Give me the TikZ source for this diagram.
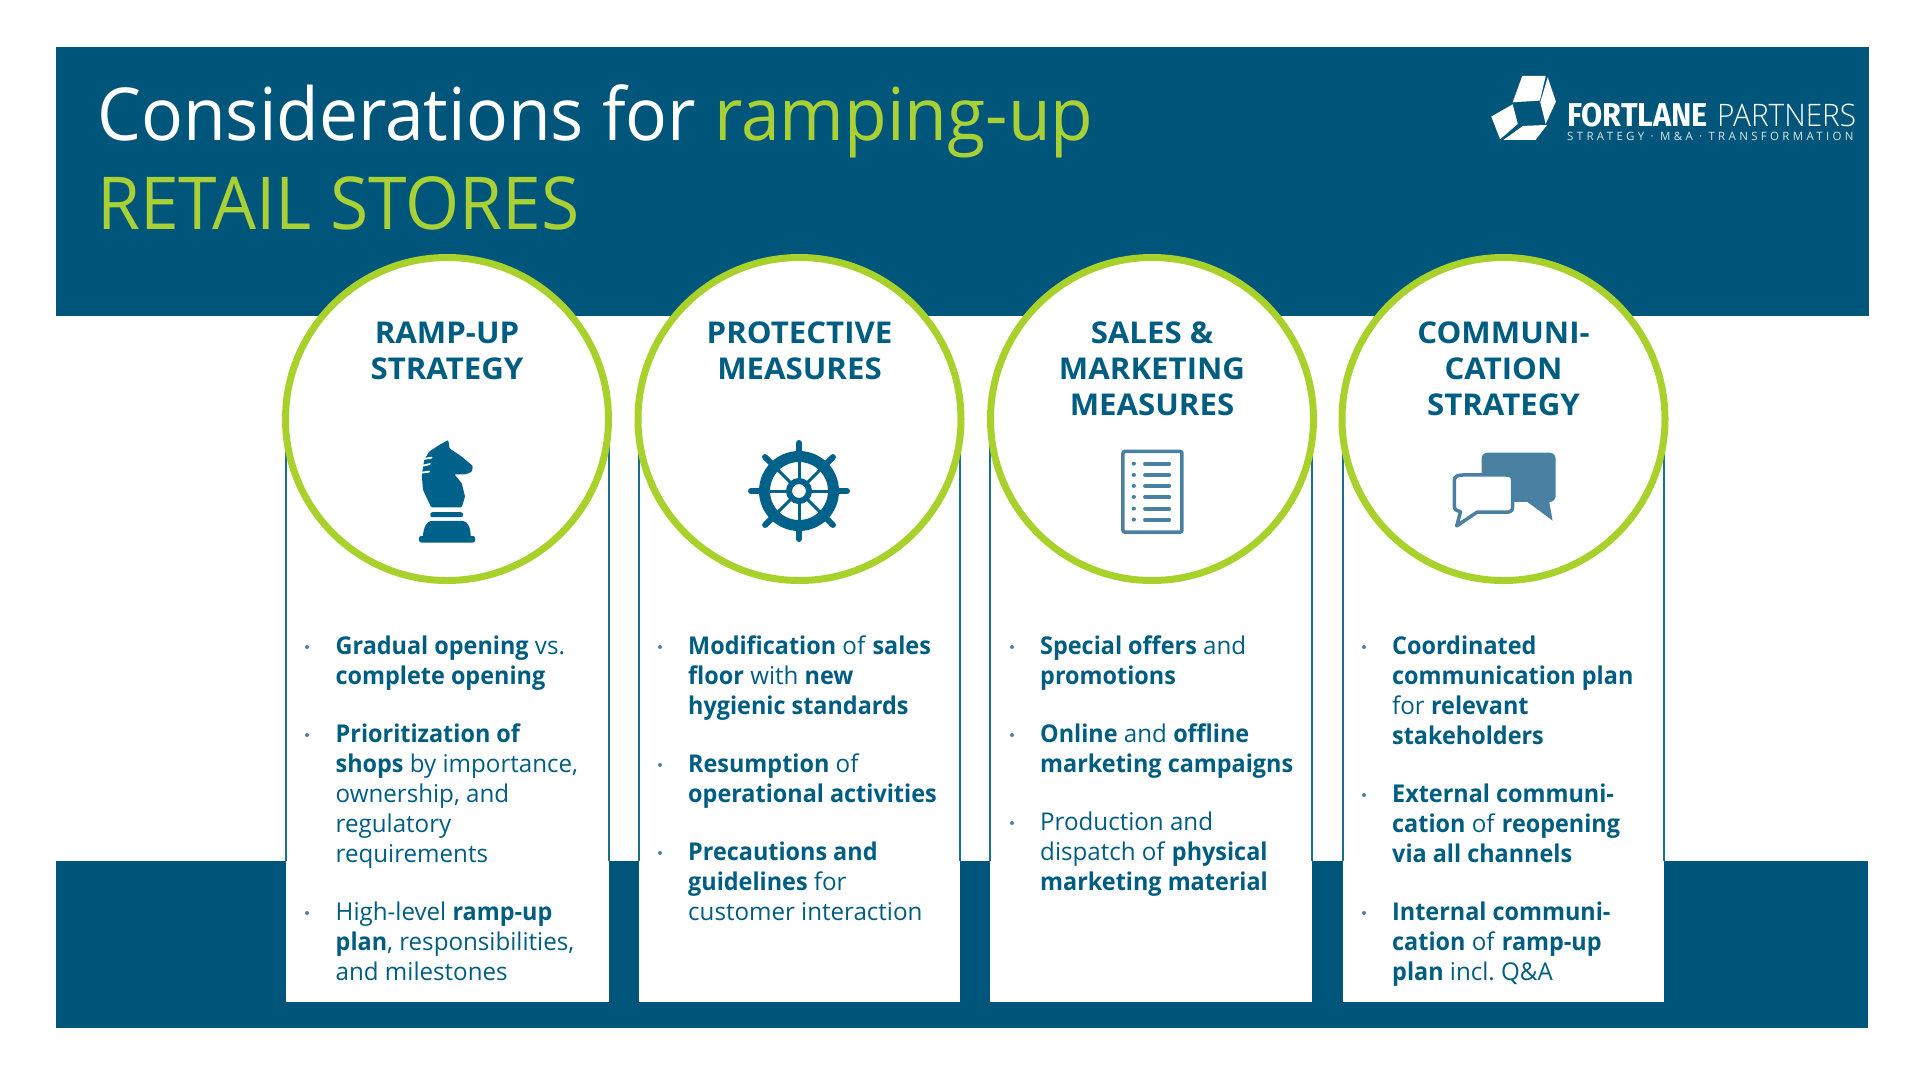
\documentclass[tikz,border=0pt]{standalone}
\usepackage{fontspec}
\setmainfont{Open Sans}[FakeStretch=0.985,BoldFeatures={FakeStretch=0.955}]
\newfontfamily\titlefont[FakeStretch=0.953]{Open Sans}
\newfontfamily\headfont[FakeStretch=1.04]{Open Sans}
\newfontfamily\logofont[FakeStretch=0.93]{Fira Sans}
\newfontfamily\logolight[FakeStretch=0.96]{Open Sans Light}
\newfontfamily\logotag[LetterSpace=29]{Open Sans}
\definecolor{band}{HTML}{00567A}
\definecolor{bodyc}{HTML}{005D82}
\definecolor{knightc}{HTML}{00618A}
\definecolor{lime}{HTML}{A8D22B}
\definecolor{titlelime}{HTML}{A9D034}
\definecolor{iconc}{HTML}{4A81A3}
\definecolor{edgec}{HTML}{1A6E90}
\tikzset{
  x=1pt,y=-1pt,
  bandbox/.style={fill=band,draw=none},
  cardbox/.style={fill=white,draw=none},
  cardedge/.style={draw=edgec,line width=1.5pt},
  ring/.style={circle,draw=lime,fill=white,line width=7pt,minimum size=323pt,inner sep=0pt},
  head/.style={anchor=center,align=center,text=bodyc,inner sep=0pt,font=\headfont\bfseries\fontsize{30}{36}\selectfont},
  item/.style={anchor=base west,inner sep=0pt,text=bodyc,font=\frenchspacing\fontsize{24.5}{30.2}\selectfont},
  dotm/.style={fill=iconc,draw=none,circle,minimum size=4pt,inner sep=0pt},
  titletext/.style={anchor=base west,inner sep=0pt,font=\titlefont\fontsize{73}{88}\selectfont}
}
\newcommand{\Ls}[1]{\renewcommand{\arraystretch}{1}\begin{tabular}[t]{@{}l@{}}#1\end{tabular}}
\begin{document}
\begin{tikzpicture}
\useasboundingbox (0,0) rectangle (1920,1080);
\fill[white] (0,0) rectangle (1920,1080);
\path[bandbox] (55.5,47) rectangle (1869,316);
\path[bandbox] (55.5,861) rectangle (1868,1028);
% cards
\foreach \a/\b in {286/609,639/960,990/1312,1343/1664}{
  \path[cardbox] (\a,440) rectangle (\b,1002);
  \draw[cardedge] (\a,440) -- (\a,861);
  \draw[cardedge] (\b,440) -- (\b,861);
}
% circles
\node[ring] (c1) at (447,419) {};
\node[ring] (c2) at (799.5,419) {};
\node[ring] (c3) at (1152,419) {};
\node[ring] (c4) at (1503.5,419) {};
% title
\node[titletext,text=white] (t1) at (97,140) {Considerations for \textcolor{titlelime}{ramping-up}};
\node[titletext,text=titlelime] (t2) at (97,229) {RETAIL STORES};
% logo
\begin{scope}[shift={(1460,50)},xscale=0.34,yscale=0.333]
 \fill[white] (183,78) -- (252,78) -- (235,152) -- (155,157) -- cycle;
 \fill[white] (258,82) -- (282,155) -- (252,222) -- (236,157) -- cycle;
 \fill[white] (92,200) -- (155,163) -- (170,222) -- (118,268) -- cycle;
 \fill[white] (128,270) -- (185,228) -- (256,225) -- (222,270) -- cycle;
\end{scope}
\node[anchor=base west,inner sep=0,text=white,font=\logofont\bfseries\fontsize{33}{33}\selectfont] (lg1) at (1567,126) {FORTLANE};
\node[anchor=base west,inner sep=0,text=white,font=\logolight\fontsize{31}{31}\selectfont] (lg2) at (1717,126) {PARTNERS};
\node[anchor=base west,inner sep=0,text=white!85!band,font=\logotag\fontsize{11.5}{12}\selectfont] (lg3) at (1567,140) {STRATEGY · M\&A · TRANSFORMATION};
% headings
\node[head] (h1) at (447,351) {RAMP-UP\\STRATEGY};
\node[head] (h2) at (799.5,351) {PROTECTIVE\\MEASURES};
\node[head] (h3) at (1152,369) {SALES \&\\MARKETING\\MEASURES};
\node[head] (h4) at (1503.5,369) {COMMUNI-\\CATION\\STRATEGY};
% knight
\begin{scope}[shift={(270,420)},xscale=0.408,yscale=0.333]
 \fill[knightc,rounded corners=1pt] (437,60) -- (440,85) -- (470,110) -- (497,138) -- (495,155) -- (480,163) -- (452,163) -- (470,190) -- (478,230) -- (470,262) -- (395,262) -- (375,210) -- (372,165) -- (378,120) -- (390,95) -- (415,75) -- cycle;
 \draw[white,line width=1.8pt,line cap=round] (378,117) -- (396,113) (372,138) -- (392,132) (372,158) -- (390,155);
 \fill[knightc,rounded corners=2pt] (393,277) rectangle (473,292);
 \fill[knightc] (375,350) .. controls (375,325) and (385,303) .. (395,303) -- (472,303) .. controls (485,303) and (492,325) .. (492,350) -- cycle;
 \fill[knightc,rounded corners=2.5pt] (365,348) rectangle (503,368);
\end{scope}
% wheel
\begin{scope}[shift={(799,491)}]
 \foreach \ang in {0,45,...,315}{
   \draw[knightc,line width=6pt,line cap=round] (\ang:34) -- (\ang:48);
   \draw[knightc,line width=3pt] (\ang:10) -- (\ang:34);
 }
 \draw[knightc,line width=11pt] (0,0) circle (34.5);
 \draw[knightc,line width=6pt] (0,0) circle (10);
\end{scope}
% list icon
\begin{scope}[shift={(1090,420)},xscale=0.388,yscale=0.333]
 \draw[iconc,line width=3.5pt,rounded corners=2pt] (85,94) rectangle (237,337);
 \foreach \yy in {131,165,198,231,266,299}{
   \fill[iconc] (113,\yy) ellipse (5.5 and 6);
   \draw[iconc,line width=4pt,line cap=round] (142,\yy) -- (204,\yy);
 }
\end{scope}
% chat icon
\begin{scope}[shift={(1085,420)},xscale=0.388,yscale=0.333]
 \fill[iconc,rounded corners=6pt] (1022,98) rectangle (1213,246);
 \fill[iconc] (1140,240) -- (1140,246) -- (1205,302) -- (1195,235) -- cycle;
 \draw[iconc,fill=white,line width=3.5pt,line join=round] (975,165) -- (1085,165) .. controls (1097,165) and (1102,170) .. (1102,180) -- (1102,262) .. controls (1102,272) and (1097,277) .. (1085,277) -- (1010,277) -- (958,318) -- (968,275) .. controls (955,272) and (952,268) .. (952,258) -- (952,180) .. controls (952,170) and (960,165) .. (975,165) -- cycle;
\end{scope}
% bullets card 1
\node[item] (a1) at (335.5,654) {\Ls{\textbf{Gradual opening} vs.\\\textbf{complete opening}}};
\node[item] (a2) at (335.5,742) {\Ls{\textbf{Prioritization of}\\\textbf{shops} by importance,\\ownership, and\\regulatory\\requirements}};
\node[item] (a3) at (335.5,920) {\Ls{High-level \textbf{ramp-up}\\\textbf{plan}, responsibilities,\\and milestones}};
% card 2
\node[item] (b1) at (688,654) {\Ls{\textbf{Modification} of \textbf{sales}\\\textbf{floor} with \textbf{new}\\\textbf{hygienic standards}}};
\node[item] (b2) at (688,772) {\Ls{\textbf{Resumption} of\\\textbf{operational activities}}};
\node[item] (b3) at (688,860) {\Ls{\textbf{Precautions and}\\\textbf{guidelines} for\\customer interaction}};
% card 3
\node[item] (d1) at (1040,654) {\Ls{\textbf{Special offers} and\\\textbf{promotions}}};
\node[item] (d2) at (1040,742) {\Ls{\textbf{Online} and \textbf{offline}\\\textbf{marketing campaigns}}};
\node[item] (d3) at (1040,830) {\Ls{Production and\\dispatch of \textbf{physical}\\\textbf{marketing material}}};
% card 4
\node[item] (e1) at (1392,654) {\Ls{\textbf{Coordinated}\\\textbf{communication plan}\\for \textbf{relevant}\\\textbf{stakeholders}}};
\node[item] (e2) at (1392,802) {\Ls{\textbf{External communi-}\\\textbf{cation} of \textbf{reopening}\\\textbf{via all channels}}};
\node[item] (e3) at (1392,920) {\Ls{\textbf{Internal communi-}\\\textbf{cation} of \textbf{ramp-up}\\\textbf{plan} incl. Q\&A}};
% bullet dots
\foreach \n/\x/\y in {p1/307/647,p2/307/735,p3/307/913,q1/660/647,q2/660/765,q3/660/853,r1/1012/647,r2/1012/735,r3/1012/823,s1/1364/647,s2/1364/795,s3/1364/913}{
  \node[dotm] (\n) at (\x,\y) {};
}
\end{tikzpicture}
\end{document}
